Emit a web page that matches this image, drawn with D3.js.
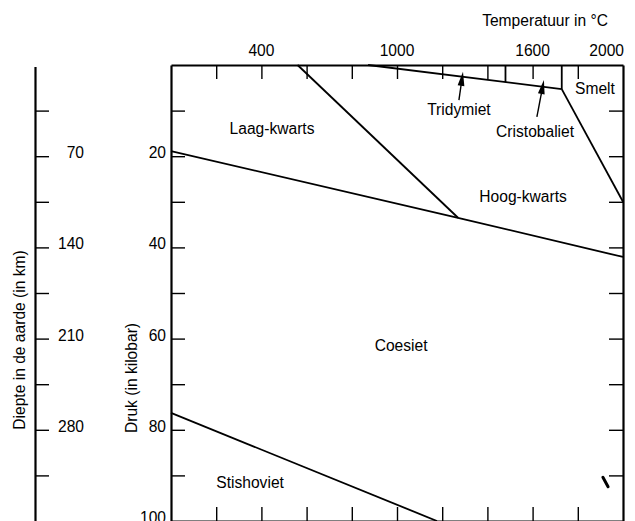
<!DOCTYPE html>
<html>
<head>
<meta charset="utf-8">
<script src="https://cdn.jsdelivr.net/npm/d3@7"></script>
<style>
	html, body { margin: 0; padding: 0; background: #fff; }
	svg { display: block; }
	text { font-family: "Liberation Sans", Arial, Helvetica, sans-serif; font-size: 15.6px; fill: #000; }
</style>
</head>
<body>
<svg id="chart" width="635" height="521"></svg>
<script>

// phase boundaries, [temperature in C, pressure in kbar]
var lowHighQuartz = [[560, 0], [1270, 33.5]];
var quartzCoesite = [[0, 18.9], [1270, 33.5], [2000, 42.1]];
var coesiteStishovite = [[0, 76.3], [1177, 100]];
var tridymiteBoundary = [[872, 0], [1729, 5.3]];
var tridymiteCristobalite = [[1480, 0], [1480, 3.76]];
var cristobaliteMelt = [[1729, 0], [1729, 5.3]];
var meltCurve = [[1729, 5.3], [2000, 30]];
var speck = [[1911, 90.4], [1934, 92.5]];

var tempTicks = [200, 400, 600, 800, 1000, 1200, 1400, 1600, 1800];
var tempLabels = [400, 1000, 1600, 2000];
var pressTicks = [10, 20, 30, 40, 50, 60, 70, 80, 90];
var pressLabels = [20, 40, 60, 80, 100];
var depthTicks = [35, 70, 105, 140, 175, 210, 245, 280, 315];
var depthLabels = [70, 140, 210, 280];

var phaseNames = ['Laag-kwarts', 'Tridymiet', 'Cristobaliet', 'Smelt', 'Hoog-kwarts', 'Coesiet', 'Stishoviet'];
var phaseT = [447, 1274, 1611, 1876, 1558, 1018, 350];
var phaseP = [15.1, 11.0, 15.8, 6.4, 30.0, 62.7, 92.8];

var arrowFrom = [[1274, 7.7], [1619, 11.4]];
var arrowTo = [[1292, 1.5], [1650, 3.3]];

var svg = d3.select('#chart');
var pLeft = 171, pRight = 623, pTop = 65, pBottom = 521;

var x = d3.scaleLinear().domain([0, 2000]).range([pLeft, pRight]);
var y = d3.scaleLinear().domain([0, 100]).range([pTop, pBottom]);
var depth = d3.scaleLinear().domain([0, 350]).range([pTop, pBottom]);

function styleAxis(g) {
	g.select('.domain').attr('stroke', '#000').attr('stroke-width', 2.2);
	g.selectAll('.tick line').attr('stroke', '#000').attr('stroke-width', 1.4);
	g.selectAll('.tick text').remove();
}

svg.append('g').attr('transform', 'translate(0,' + pTop + ')')
	.call(d3.axisBottom(x).tickValues(tempTicks).tickSize(14).tickSizeOuter(0).tickFormat(''))
	.call(styleAxis);
svg.append('g').attr('transform', 'translate(0,' + pBottom + ')')
	.call(d3.axisTop(x).tickValues(tempTicks).tickSize(14).tickSizeOuter(0).tickFormat(''))
	.call(styleAxis);
svg.append('g').attr('transform', 'translate(' + pLeft + ',0)')
	.call(d3.axisRight(y).tickValues(pressTicks).tickSize(14).tickSizeOuter(0).tickFormat(''))
	.call(styleAxis);
svg.append('g').attr('transform', 'translate(' + pRight + ',0)')
	.call(d3.axisLeft(y).tickValues(pressTicks).tickSize(14).tickSizeOuter(0).tickFormat(''))
	.call(styleAxis);
var depthAxis = svg.append('g').attr('transform', 'translate(35,0)')
	.call(d3.axisRight(depth).tickValues(depthTicks).tickSize(14).tickSizeOuter(0).tickFormat(''))
	.call(styleAxis);
depthAxis.select('.domain').attr('d', 'M0.5,' + (pTop + 2) + 'V' + pBottom);

// tick labels
svg.selectAll('.tlab').data(tempLabels).enter().append('text')
	.attr('x', function(d, i) { return i === tempLabels.length - 1 ? x(d) + 1 : x(d); })
	.attr('y', 56)
	.attr('text-anchor', function(d, i) { return i === tempLabels.length - 1 ? 'end' : 'middle'; })
	.text(function(d) { return d; });

svg.selectAll('.plab').data(pressLabels).enter().append('text')
	.attr('x', 166).attr('y', function(d) { return y(d) + 2; })
	.attr('text-anchor', 'end')
	.text(function(d) { return d; });

svg.selectAll('.dlab').data(depthLabels).enter().append('text')
	.attr('x', 84).attr('y', function(d) { return depth(d) + 2; })
	.attr('text-anchor', 'end')
	.text(function(d) { return d; });

// axis titles
svg.append('text').attr('x', 608).attr('y', 26).attr('text-anchor', 'end').text('Temperatuur in °C');
svg.append('text').attr('transform', 'translate(25,340) rotate(-90)').attr('text-anchor', 'middle').text('Diepte in de aarde (in km)');
svg.append('text').attr('transform', 'translate(137,378) rotate(-90)').attr('text-anchor', 'middle').text('Druk (in kilobar)');

// phase boundaries
var line = d3.line().x(function(d) { return x(d[0]); }).y(function(d) { return y(d[1]); });
[lowHighQuartz, quartzCoesite, coesiteStishovite, tridymiteBoundary, tridymiteCristobalite, cristobaliteMelt, meltCurve].forEach(function(b) {
	svg.append('path').datum(b).attr('d', line)
		.attr('fill', 'none').attr('stroke', '#000').attr('stroke-width', 1.8);
});

svg.append('path').datum(speck).attr('d', line)
	.attr('fill', 'none').attr('stroke', '#000').attr('stroke-width', 3).attr('stroke-linecap', 'round');

// phase names
svg.selectAll('.phase').data(phaseNames).enter().append('text')
	.attr('x', function(d, i) { return x(phaseT[i]); })
	.attr('y', function(d, i) { return y(phaseP[i]); })
	.attr('text-anchor', 'middle')
	.text(function(d) { return d; });

// arrows pointing at the narrow fields
arrowFrom.forEach(function(a, i) {
	var x1 = x(a[0]), y1 = y(a[1]);
	var x2 = x(arrowTo[i][0]), y2 = y(arrowTo[i][1]);
	var len = Math.sqrt((x2 - x1) * (x2 - x1) + (y2 - y1) * (y2 - y1));
	var ux = (x2 - x1) / len, uy = (y2 - y1) / len;
	var hl = 14, hw = 3.4;
	var bx = x2 - ux * hl, by = y2 - uy * hl;
	svg.append('line').attr('x1', x1).attr('y1', y1).attr('x2', bx + ux).attr('y2', by + uy)
		.attr('stroke', '#000').attr('stroke-width', 1.4);
	svg.append('path')
		.attr('d', 'M' + x2 + ',' + y2 + 'L' + (bx - uy * hw) + ',' + (by + ux * hw) + 'L' + (bx + uy * hw) + ',' + (by - ux * hw) + 'Z')
		.attr('fill', '#000');
});

</script>
</body>
</html>
